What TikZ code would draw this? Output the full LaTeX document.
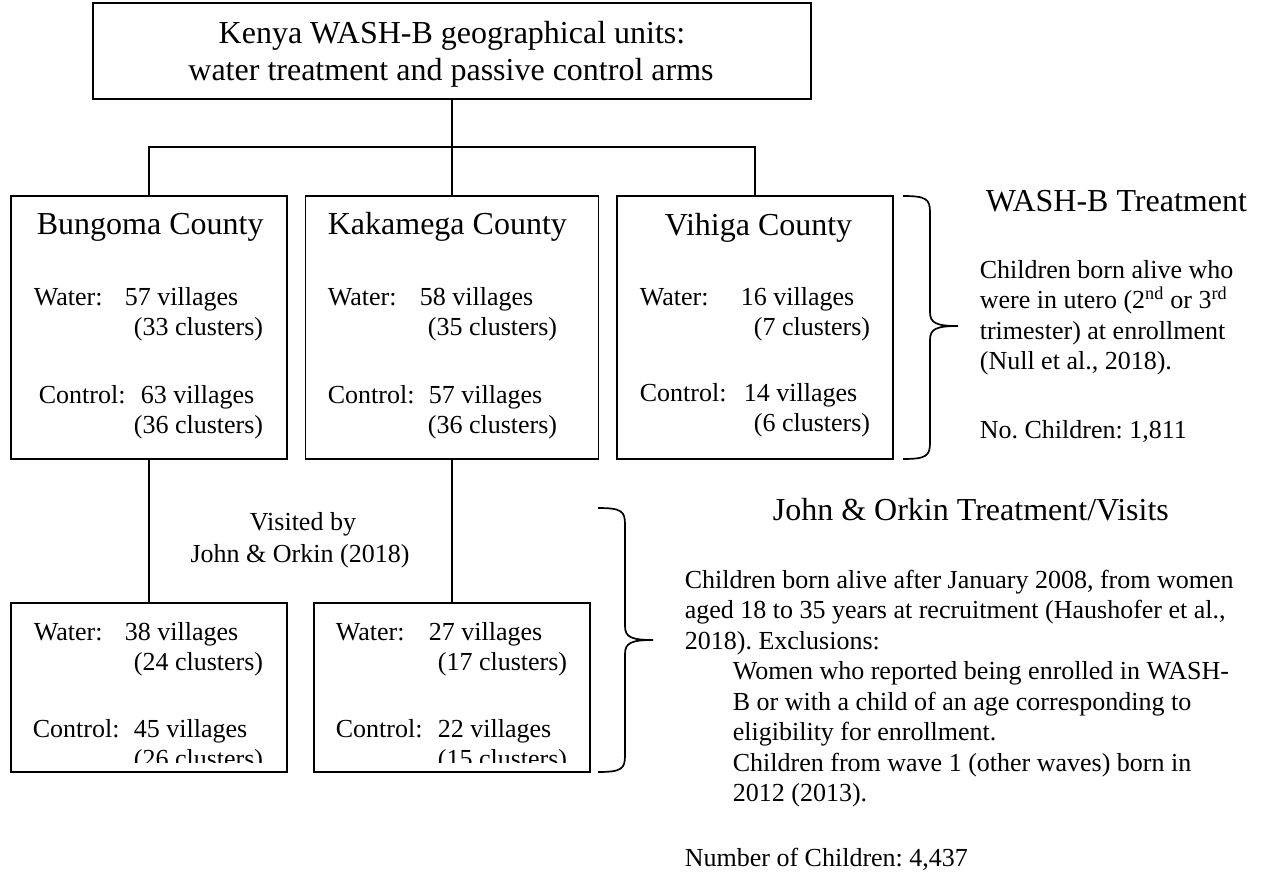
\documentclass[tikz,border=0pt]{standalone}
\usepackage{fontspec}
\setmainfont{Liberation Serif}
\frenchspacing
\newcommand\bodyfont{\fontsize{26}{30}\selectfont}
\newcommand\headfont{\fontsize{32}{37}\selectfont}
\begin{document}
\begin{tikzpicture}[x=1pt,y=-1pt, line width=1.7pt,
  box/.style={draw, rectangle, inner sep=0pt},
  txt/.style={anchor=base west, inner sep=0pt, font=\bodyfont},
  ctxt/.style={anchor=base, inner sep=0pt, font=\bodyfont},
  head/.style={anchor=base west, inner sep=0pt, font=\headfont},
  chead/.style={anchor=base, inner sep=0pt, font=\headfont},
  conn/.style={line width=1.7pt},
  brace/.style={line width=1.7pt}]
\useasboundingbox (0,0) rectangle (1262,878);
\fill[white] (0,0) rectangle (1262,878);

% boxes
\node[box, minimum width=718pt, minimum height=96pt] (top) at (452,51) {};
\node[box, minimum width=276pt, minimum height=263pt] (bung) at (149,327.5) {};
\node[box, minimum width=293pt, minimum height=263pt] (kak) at (452,327.5) {};
\node[box, minimum width=276pt, minimum height=263pt] (vih) at (755,327.5) {};
\node[box, minimum width=276pt, minimum height=169pt] (bo1) at (149,687.5) {};
\node[box, minimum width=276pt, minimum height=169pt] (bo2) at (452,687.5) {};

% connectors
\coordinate (j) at (452,147);
\draw[conn] (top.south) -- (j);
\draw[conn] (bung.north) |- (j) -| (vih.north);
\draw[conn] (j) -- (kak.north);
\draw[conn] (bung.south) -- (bo1.north);
\draw[conn] (kak.south) -- (bo2.north);

% title
\node[chead] (t1) at (452,43) {Kenya WASH-B geographical units:};
\node[chead] (t2) at (451,80) {water treatment and passive control arms};

% Bungoma
\node[head] (bh) at (36,234) {Bungoma County};
\node[txt] (bw) at (33,305) {Water:};
\node[txt] (bwv) at (124,305) {57 villages};
\node[txt] (bwc) at (133,335) {(33 clusters)};
\node[txt] (bc) at (38,403) {Control:};
\node[txt] (bcv) at (140,403) {63 villages};
\node[txt] (bcc) at (133,433) {(36 clusters)};

% Kakamega
\node[head] (kh) at (327,234) {Kakamega County};
\node[txt] (kw) at (327,305) {Water:};
\node[txt] (kwv) at (419,305) {58 villages};
\node[txt] (kwc) at (427,335) {(35 clusters)};
\node[txt] (kc) at (327,403) {Control:};
\node[txt] (kcv) at (428,403) {57 villages};
\node[txt] (kcc) at (427,433) {(36 clusters)};

% Vihiga
\node[head] (vh) at (664,235) {Vihiga County};
\node[txt] (vw) at (639,305) {Water:};
\node[txt] (vwv) at (740,305) {16 villages};
\node[txt] (vwc) at (753,335) {(7 clusters)};
\node[txt] (vc) at (639,401) {Control:};
\node[txt] (vcv) at (743,401) {14 villages};
\node[txt] (vcc) at (753,431) {(6 clusters)};

% bottom boxes (text clipped at the bottom)
\begin{scope}
\clip (11,603) rectangle (287,762);
\node[txt] (aw) at (33,640) {Water:};
\node[txt] (awv) at (124,640) {38 villages};
\node[txt] (awc) at (133,670) {(24 clusters)};
\node[txt] (ac) at (32,737) {Control:};
\node[txt] (acv) at (133,737) {45 villages};
\node[txt] (acc) at (133,767) {(26 clusters)};
\end{scope}
\begin{scope}
\clip (314,603) rectangle (590,762);
\node[txt] (cw) at (335,640) {Water:};
\node[txt] (cwv) at (428,640) {27 villages};
\node[txt] (cwc) at (437,670) {(17 clusters)};
\node[txt] (cc) at (335,737) {Control:};
\node[txt] (ccv) at (437,737) {22 villages};
\node[txt] (ccc) at (437,767) {(15 clusters)};
\end{scope}

% visited label
\node[ctxt] (vis1) at (303,530) {Visited by};
\node[ctxt] (vis2) at (300,562) {John \& Orkin (2018)};

% braces
\draw[brace] (903,196) .. controls (926,196) and (930,199) .. (930,212) -- (930,312)
  .. controls (930,323) and (936,326) .. (958,326)
  .. controls (936,326) and (930,329) .. (930,340) -- (930,443)
  .. controls (930,456) and (926,459) .. (903,459);
\draw[brace] (598,508) .. controls (621,508) and (625,511) .. (625,524) -- (625,626)
  .. controls (625,637) and (631,640) .. (653,640)
  .. controls (631,640) and (625,643) .. (625,654) -- (625,756)
  .. controls (625,769) and (621,772) .. (598,772);

% WASH-B treatment
\node[head] (wh) at (985,211) {WASH-B Treatment};
\node[txt] (w1) at (979,278) {Children born alive who};
\node[txt] (w2) at (979,308.5) {were in utero (2\textsuperscript{nd} or 3\textsuperscript{rd}};
\node[txt] (w3) at (979,339) {trimester) at enrollment};
\node[txt] (w4) at (979,369.5) {(Null et al., 2018).};
\node[txt] (w5) at (979,438) {No. Children: 1,811};

% John & Orkin
\node[head] (jh) at (772,520) {John \& Orkin Treatment/Visits};
\node[txt] (j1) at (684,588) {Children born alive after January 2008, from women};
\node[txt] (j2) at (684,618.5) {aged 18 to 35 years at recruitment (Haushofer et al.,};
\node[txt] (j3) at (684,649) {2018). Exclusions:};
\node[txt] (j4) at (732,679.5) {Women who reported being enrolled in WASH-};
\node[txt] (j5) at (732,710) {B or with a child of an age corresponding to};
\node[txt] (j6) at (732,740.5) {eligibility for enrollment.};
\node[txt] (j7) at (732,771) {Children from wave 1 (other waves) born in};
\node[txt] (j8) at (732,801.5) {2012 (2013).};
\node[txt] (j9) at (684,866) {Number of Children: 4,437};
\end{tikzpicture}
\end{document}
